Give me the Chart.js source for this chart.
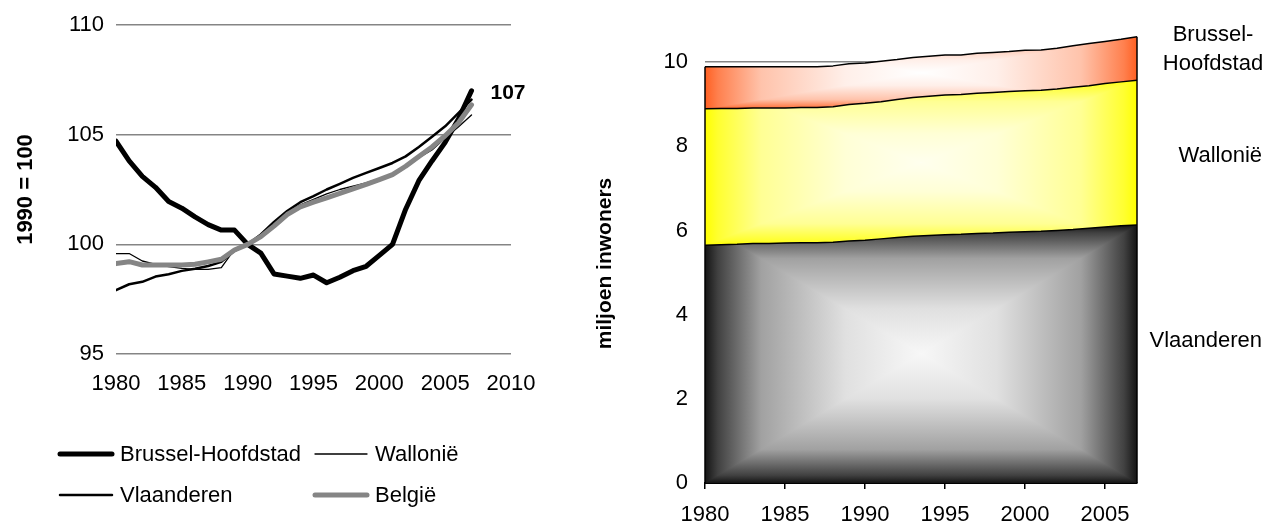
<!DOCTYPE html>
<html>
<head>
<meta charset="utf-8">
<script src="https://cdn.jsdelivr.net/npm/chart.js@4.4.1/dist/chart.umd.min.js"></script>
<style>
  html, body { margin: 0; padding: 0; background: #fff; }
  #wrap { position: relative; width: 1265px; height: 525px; overflow: hidden; }
  #leftBox { position: absolute; left: 0; top: 0; width: 560px; height: 525px; }
  #rightBox { position: absolute; left: 560px; top: 0; width: 705px; height: 525px; }
</style>
</head>
<body>
<div id="wrap">
  <div id="leftBox"><canvas id="left" width="560" height="525"></canvas></div>
  <div id="rightBox"><canvas id="right" width="705" height="525"></canvas></div>
</div>
<script>
// ---- data ----
const years = [1980, 1981, 1982, 1983, 1984, 1985, 1986, 1987, 1988, 1989,
               1990, 1991, 1992, 1993, 1994, 1995, 1996, 1997, 1998, 1999,
               2000, 2001, 2002, 2003, 2004, 2005, 2006, 2007];

// population index, 1990 = 100
const idxBrussel = [104.7, 103.8, 103.1, 102.6, 101.95, 101.65, 101.25, 100.9, 100.65, 100.65,
                    100.0, 99.6, 98.65, 98.55, 98.45, 98.6, 98.25, 98.5, 98.8, 99.0,
                    99.5, 100.0, 101.6, 102.9, 103.8, 104.65, 105.7, 107.0];
const idxWallonie = [99.58, 99.58, 99.24, 99.09, 98.98, 98.9, 98.86, 98.86, 98.94, 99.77,
                     100.0, 100.4, 100.95, 101.45, 101.8, 102.05, 102.3, 102.5, 102.65, 102.8,
                     103.0, 103.2, 103.5, 103.95, 104.3, 104.85, 105.35, 105.9];
const idxVlaanderen = [97.91, 98.18, 98.29, 98.53, 98.64, 98.79, 98.89, 99.01, 99.2, 99.7,
                       100.0, 100.45, 101.02, 101.52, 101.92, 102.2, 102.5, 102.76, 103.03, 103.26,
                       103.48, 103.71, 104.01, 104.44, 104.9, 105.38, 105.98, 106.6];
const idxBelgie = [99.12, 99.21, 99.06, 99.06, 99.06, 99.06, 99.09, 99.2, 99.32, 99.74,
                   100.0, 100.35, 100.83, 101.36, 101.71, 101.92, 102.12, 102.32, 102.53, 102.73,
                   102.95, 103.18, 103.56, 104.01, 104.44, 104.95, 105.53, 106.36];

// population in millions
const popVlaanderen = [5.65, 5.66, 5.67, 5.69, 5.69, 5.70, 5.71, 5.71, 5.72, 5.75,
                       5.77, 5.80, 5.83, 5.86, 5.88, 5.90, 5.91, 5.93, 5.94, 5.96,
                       5.97, 5.98, 6.00, 6.02, 6.05, 6.08, 6.11, 6.13];
const popWallonie = [3.24, 3.24, 3.23, 3.22, 3.22, 3.21, 3.21, 3.21, 3.22, 3.24,
                     3.25, 3.26, 3.28, 3.30, 3.31, 3.32, 3.32, 3.33, 3.34, 3.34,
                     3.35, 3.35, 3.36, 3.38, 3.39, 3.41, 3.42, 3.44];
const popBrussel = [1.00, 0.99, 0.99, 0.98, 0.98, 0.98, 0.97, 0.97, 0.97, 0.97,
                    0.96, 0.96, 0.95, 0.95, 0.95, 0.95, 0.94, 0.95, 0.95, 0.95,
                    0.96, 0.96, 0.97, 0.99, 1.00, 1.00, 1.01, 1.03];

const indexTicks = [95, 100, 105, 110];
const popTicks = [0, 2, 4, 6, 8, 10];

// ---- shared styling ----
const FONT = "'Liberation Sans', Arial, Helvetica, sans-serif";
Chart.defaults.font.family = FONT;
Chart.defaults.font.size = 22;
Chart.defaults.color = '#000';

// ---- left: index lines ----
const toPoints = vals => years.map((y, i) => ({ x: y, y: vals[i] }));

const lineSeries = [
  { label: 'België', data: idxBelgie, color: '#858585', width: 5 },
  { label: 'Vlaanderen', data: idxVlaanderen, color: '#000000', width: 2.5 },
  { label: 'Wallonië', data: idxWallonie, color: '#000000', width: 1.3 },
  { label: 'Brussel-Hoofdstad', data: idxBrussel, color: '#000000', width: 5 }
];
const legendOrder = ['Brussel-Hoofdstad', 'Wallonië', 'Vlaanderen', 'België'];

const legendPlugin = {
  id: 'gridLegend',
  afterDraw(chart) {
    const { ctx, chartArea } = chart;
    const x0 = chartArea.left - 58, y0 = chartArea.bottom + 100;
    ctx.save();
    ctx.font = '22px ' + FONT;
    ctx.textBaseline = 'middle';
    ctx.textAlign = 'left';
    ctx.lineCap = 'round';
    legendOrder.forEach((name, k) => {
      const ds = chart.data.datasets.find(d => d.label === name);
      const x = x0 + (k % 2) * 255;
      const y = y0 + Math.floor(k / 2) * 41;
      ctx.strokeStyle = ds.borderColor;
      ctx.lineWidth = ds.borderWidth;
      ctx.beginPath();
      ctx.moveTo(x + 2, y);
      ctx.lineTo(x + 54, y);
      ctx.stroke();
      ctx.fillStyle = '#000';
      ctx.fillText(name, x + 62, y + 1);
    });
    ctx.restore();
  }
};

const endLabelPlugin = {
  id: 'endLabel',
  afterDatasetsDraw(chart) {
    const i = chart.data.datasets.findIndex(d => d.label === 'Brussel-Hoofdstad');
    const meta = chart.getDatasetMeta(i);
    const last = meta.data[meta.data.length - 1];
    const val = idxBrussel[idxBrussel.length - 1];
    const { ctx } = chart;
    ctx.save();
    ctx.font = 'bold 21px ' + FONT;
    ctx.fillStyle = '#000';
    ctx.textAlign = 'left';
    ctx.textBaseline = 'middle';
    ctx.fillText(String(Math.round(val)), last.x + 19, last.y + 2);
    ctx.restore();
  }
};

new Chart(document.getElementById('left'), {
  type: 'line',
  data: {
    datasets: lineSeries.map(s => ({
      label: s.label,
      data: toPoints(s.data),
      borderColor: s.color,
      borderWidth: s.width,
      fill: false
    }))
  },
  options: {
    responsive: false,
    animation: false,
    events: [],
    layout: { padding: { left: 13, top: 25, right: 49, bottom: 126 } },
    elements: {
      point: { radius: 0 },
      line: { tension: 0, borderCapStyle: 'round', borderJoinStyle: 'round' }
    },
    plugins: { legend: { display: false }, tooltip: { enabled: false } },
    scales: {
      x: {
        type: 'linear', min: 1980, max: 2010,
        afterBuildTicks: s => { s.ticks = [1980, 1985, 1990, 1995, 2000, 2005, 2010].map(v => ({ value: v })); },
        ticks: { padding: 9, maxRotation: 0, callback: v => String(v) },
        grid: { display: false },
        border: { display: false },
        afterFit: s => { s.height = 45; }
      },
      y: {
        min: indexTicks[0], max: indexTicks[indexTicks.length - 1],
        afterBuildTicks: s => { s.ticks = indexTicks.map(v => ({ value: v })); },
        ticks: { padding: 0, callback: v => String(v) },
        grid: { color: '#858585', lineWidth: 1.5, drawTicks: true, tickLength: 12, tickColor: 'rgba(0,0,0,0)' },
        border: { display: false },
        title: { display: true, text: '1990 = 100', font: { size: 22, weight: 'bold' }, padding: 0 },
        afterFit: s => { s.width = 103; }
      }
    }
  },
  plugins: [legendPlugin, endLabelPlugin]
});

// ---- right: stacked areas ----
const areaSeries = [
  { label: 'Vlaanderen', data: popVlaanderen, inner: [247, 247, 247], outer: [20, 20, 20] },
  { label: 'Wallonië', data: popWallonie, inner: [255, 255, 238], outer: [255, 255, 0] },
  { label: 'Brussel-Hoofdstad', data: popBrussel, inner: [255, 255, 255], outer: [255, 96, 34] }
];

// cumulative band bounds
const bandLow = areaSeries.map((s, k) => years.map((_, i) =>
  areaSeries.slice(0, k).reduce((a, t) => a + t.data[i], 0)));
const bandHigh = areaSeries.map((s, k) => years.map((_, i) => bandLow[k][i] + s.data[i]));

// colour ramp from the centre (0) to the edge (1) of a rectangular "from centre" fill
const rampStops = [[0, 0], [0.35, 0.1], [0.74, 0.38], [0.94, 0.8], [1, 1]];
const mixRGB = (a, b, m) => 'rgb(' + a.map((v, j) => Math.round(v + (b[j] - v) * m)).join(',') + ')';

function paintRectFill(g, l, t, r, b, inner, outer) {
  const cx = (l + r) / 2, cy = (t + b) / 2;
  const grad = (ex, ey) => {
    const gr = g.createLinearGradient(cx, cy, ex, ey);
    rampStops.forEach(([d, m]) => gr.addColorStop(d, mixRGB(inner, outer, m)));
    return gr;
  };
  const poly = (pts, style) => {
    g.fillStyle = style;
    g.beginPath();
    g.moveTo(pts[0][0], pts[0][1]);
    pts.slice(1).forEach(p => g.lineTo(p[0], p[1]));
    g.closePath();
    g.fill();
  };
  poly([[l - 2, t - 2], [r + 2, t - 2], [r + 2, cy], [l - 2, cy]], grad(cx, t));
  poly([[l - 2, cy], [r + 2, cy], [r + 2, b + 2], [l - 2, b + 2]], grad(cx, b));
  const hh = (b - t) / 2, hw = (r - l) / 2;
  const k = hh / hw;
  poly([[l - 2, t - 2 * k], [cx, cy], [l - 2, b + 2 * k]], grad(l, cy));
  poly([[r + 2, t - 2 * k], [cx, cy], [r + 2, b + 2 * k]], grad(r, cy));
}

let fillCache = { key: null, patterns: [] };
function bandFill(context) {
  const chart = context.chart;
  const k = context.datasetIndex;
  const s = areaSeries[k];
  if (!chart.chartArea || !chart.scales.y || !chart.scales.x) return mixRGB(s.inner, s.outer, 0.5);
  const ca = chart.chartArea;
  const key = [ca.left, ca.top, ca.right, ca.bottom, chart.width, chart.height].join('|');
  if (fillCache.key !== key) {
    const xs = chart.scales.x, ys = chart.scales.y;
    fillCache = { key, patterns: [] };
    areaSeries.forEach((ser, j) => {
      const off = document.createElement('canvas');
      off.width = chart.width;
      off.height = chart.height;
      const g = off.getContext('2d');
      const l = xs.getPixelForValue(0);
      const r = xs.getPixelForValue(years.length - 1);
      const t = ys.getPixelForValue(Math.max(...bandHigh[j]));
      const b = ys.getPixelForValue(Math.min(...bandLow[j]));
      paintRectFill(g, l, t, r, b, ser.inner, ser.outer);
      fillCache.patterns[j] = chart.ctx.createPattern(off, 'no-repeat');
    });
  }
  return fillCache.patterns[k];
}

const edgePlugin = {
  id: 'areaEdges',
  afterDatasetsDraw(chart) {
    const { ctx } = chart;
    const xs = chart.scales.x, ys = chart.scales.y;
    const top = bandHigh[bandHigh.length - 1];
    ctx.save();
    ctx.strokeStyle = '#000';
    ctx.lineWidth = 1.5;
    [0, years.length - 1].forEach(i => {
      const x = xs.getPixelForValue(i);
      ctx.beginPath();
      ctx.moveTo(x, ys.getPixelForValue(0));
      ctx.lineTo(x, ys.getPixelForValue(top[i]));
      ctx.stroke();
    });
    ctx.restore();
  }
};

// region names beside the areas, and the vertical axis title
const regionLabelPlugin = {
  id: 'regionLabels',
  afterDraw(chart) {
    const { ctx, chartArea } = chart;
    ctx.save();
    ctx.font = '22px ' + FONT;
    ctx.fillStyle = '#000';
    ctx.textBaseline = 'middle';
    ctx.textAlign = 'center';
    ctx.fillText('Brussel-', chartArea.right + 76, chartArea.top + 15);
    ctx.fillText('Hoofdstad', chartArea.right + 76, chartArea.top + 44);
    ctx.textAlign = 'right';
    ctx.fillText('Wallonië', chartArea.right + 125, chartArea.top + 136);
    ctx.fillText('Vlaanderen', chartArea.right + 125, chartArea.top + 321);

    ctx.translate(chartArea.left - 100, (chartArea.top + chartArea.bottom) / 2 + 12);
    ctx.rotate(-Math.PI / 2);
    ctx.textAlign = 'center';
    ctx.font = 'bold 21px ' + FONT;
    ctx.fillText('miljoen inwoners', 0, 0);
    ctx.restore();
  }
};

new Chart(document.getElementById('right'), {
  type: 'line',
  data: {
    labels: years.map(String),
    datasets: areaSeries.map((s, k) => ({
      label: s.label,
      data: s.data,
      fill: k === 0 ? 'origin' : '-1',
      backgroundColor: bandFill,
      borderColor: '#000',
      borderWidth: 1.5
    }))
  },
  options: {
    responsive: false,
    animation: false,
    events: [],
    layout: { padding: { left: 33, top: 20, right: 128, bottom: 0 } },
    elements: {
      point: { radius: 0 },
      line: { tension: 0, borderJoinStyle: 'round' }
    },
    plugins: { legend: { display: false }, tooltip: { enabled: false }, filler: { propagate: false } },
    scales: {
      x: {
        offset: false,
        ticks: {
          autoSkip: false, maxRotation: 0, padding: 13,
          callback: (v, i) => (years[i] % 5 === 0 ? String(years[i]) : null)
        },
        grid: { drawOnChartArea: false, color: '#000', lineWidth: 1.5, tickLength: 6 },
        border: { color: '#000', width: 2 },
        afterFit: s => { s.height = 42; }
      },
      y: {
        stacked: true, min: 0, max: 11,
        afterBuildTicks: s => { s.ticks = popTicks.map(v => ({ value: v })); },
        ticks: { padding: 0, callback: v => String(v) },
        grid: { color: '#858585', lineWidth: 1.5, drawTicks: true, tickLength: 17, tickColor: 'rgba(0,0,0,0)' },
        border: { display: false },
        afterFit: s => { s.width = 112; }
      }
    }
  },
  plugins: [edgePlugin, regionLabelPlugin]
});
</script>
</body>
</html>
